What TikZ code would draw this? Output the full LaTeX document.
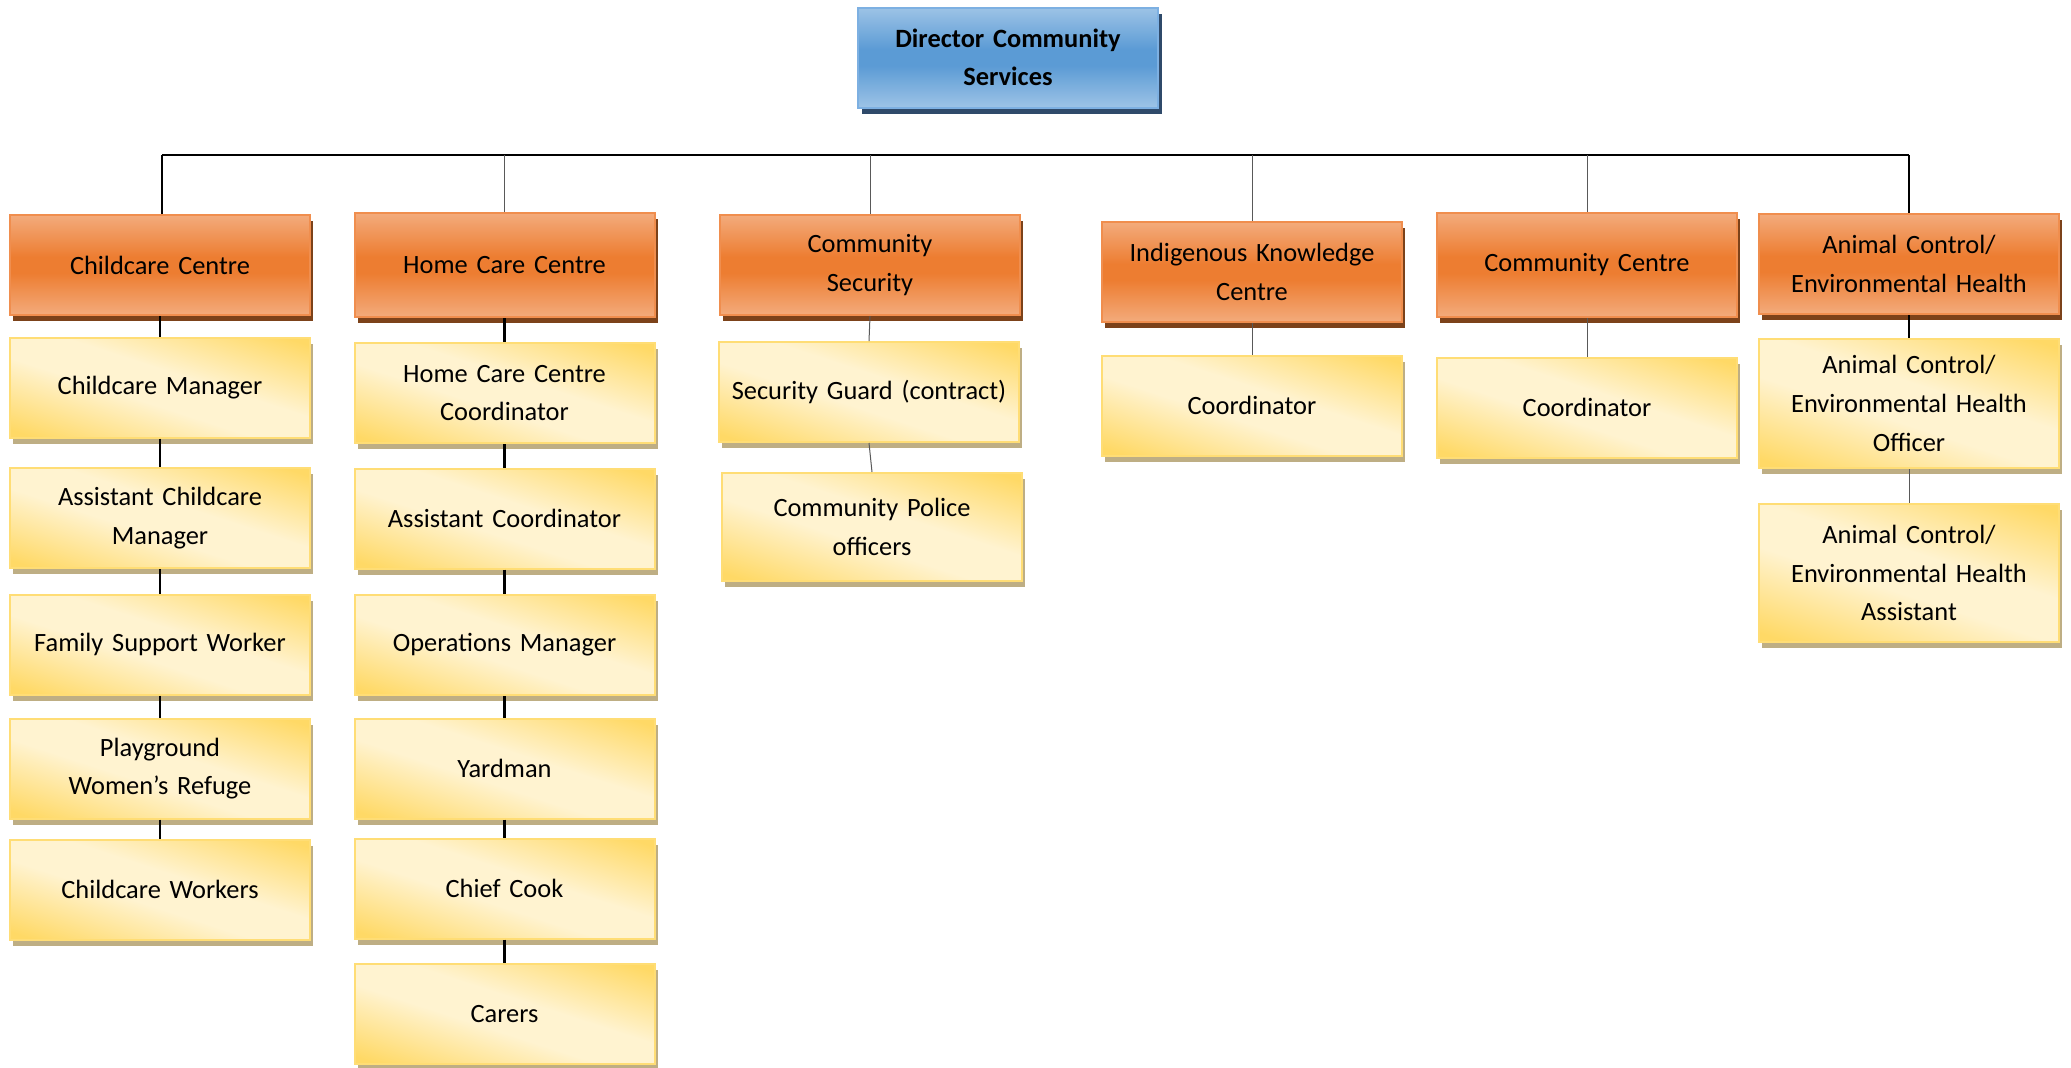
\documentclass[tikz,border=0pt]{standalone}
\usepackage{fontspec}
\setmainfont{Carlito}
\usepackage{xcolor}
\usetikzlibrary{shadows, positioning, calc}

\definecolor{omid}{HTML}{ED7D31}
\definecolor{olight}{HTML}{F3AB7C}
\definecolor{oborder}{HTML}{F08E4E}
\definecolor{oshadow}{HTML}{7C421A}
\definecolor{bmid}{HTML}{5B9BD5}
\definecolor{blight}{HTML}{9DC3E6}
\definecolor{bborder}{HTML}{7DB0E2}
\definecolor{bshadow}{HTML}{2F4A6A}
\definecolor{ygold}{HTML}{FFD966}
\definecolor{ylight}{HTML}{FFF3D0}
\definecolor{yborder}{HTML}{FFDD75}
\definecolor{yshadow}{HTML}{BEAE84}

\pgfdeclareverticalshading{orangebar}{100bp}{color(0bp)=(olight); color(25bp)=(olight); color(46bp)=(omid); color(54bp)=(omid); color(75bp)=(olight); color(100bp)=(olight)}
\pgfdeclareverticalshading{bluebar}{100bp}{color(0bp)=(blight); color(25bp)=(blight); color(46bp)=(bmid); color(54bp)=(bmid); color(75bp)=(blight); color(100bp)=(blight)}
\pgfdeclarehorizontalshading{yellowdiag}{100bp}{color(0bp)=(ygold); color(21bp)=(ygold); color(44bp)=(ylight); color(56bp)=(ylight); color(79bp)=(ygold); color(100bp)=(ygold)}

\tikzset{
  box/.style={rectangle, minimum width=150pt, minimum height=50pt,
    text width=142pt, align=center, font=\fontsize{13.2}{19.3}\selectfont,
    line width=1pt, inner sep=0pt},
  headbox/.style={box, draw=oborder, shading=orangebar,
    drop shadow={shadow xshift=1.5pt, shadow yshift=-3pt, fill=oshadow, opacity=1}},
  topbox/.style={box, draw=bborder, shading=bluebar, font=\fontsize{13.2}{19.3}\selectfont\bfseries,
    drop shadow={shadow xshift=2pt, shadow yshift=-3pt, fill=bshadow, opacity=1}},
  staffbox/.style={box, draw=yborder, shading=yellowdiag, shading angle=72,
    drop shadow={shadow xshift=1.5pt, shadow yshift=-3pt, fill=yshadow, opacity=1}},
  boldline/.style={line width=1.3pt, black},
  thinline/.style={line width=0.5pt, black!65},
}

\begin{document}
\begin{tikzpicture}[x=0.5pt, y=-0.5pt]
  \useasboundingbox (0,0) rectangle (2071,1067);

  % director
  \node[topbox] (dir) at (1008,57.5) {Director Community\\Services};

  % centres
  \node[headbox] (child) at (160,265) {Childcare Centre};
  \node[headbox, minimum height=52pt] (home) at (504.5,265) {Home Care Centre};
  \node[headbox] (secur) at (870,265) {Community\\Security};
  \node[headbox] (indig) at (1252,272) {Indigenous Knowledge\\Centre};
  \node[headbox, minimum height=52pt] (comm) at (1587,265) {Community Centre};
  \node[headbox] (anim) at (1909,264) {Animal Control/\\Environmental Health};

  % childcare column
  \node[staffbox] (chman) at (160,387.5) {Childcare Manager};
  \node[staffbox] (chass) at (160,518) {Assistant Childcare\\Manager};
  \node[staffbox] (chfam) at (160,644.5) {Family Support Worker};
  \node[staffbox] (chplay) at (160,768.5) {Playground\\Women’s Refuge};
  \node[staffbox] (chwork) at (160,889.5) {Childcare Workers};

  % home care column
  \node[staffbox] (hccoord) at (504.5,393) {Home Care Centre\\Coordinator};
  \node[staffbox] (hcass) at (504.5,518.5) {Assistant Coordinator};
  \node[staffbox] (hcops) at (504.5,645) {Operations Manager};
  \node[staffbox] (hcyard) at (504.5,768.5) {Yardman};
  \node[staffbox] (hccook) at (504.5,888.5) {Chief Cook};
  \node[staffbox] (hccare) at (504.5,1014) {Carers};

  % security column
  \node[staffbox] (scguard) at (869,392) {Security Guard (contract)};
  \node[staffbox, minimum height=54pt] (scpol) at (872,527) {Community Police\\officers};

  % other columns
  \node[staffbox] (ikcoord) at (1252,405.5) {Coordinator};
  \node[staffbox] (cccoord) at (1587,407.5) {Coordinator};
  \node[staffbox, minimum height=64.5pt] (acoff) at (1909,403.5) {Animal Control/\\Environmental Health\\Officer};
  \node[staffbox, minimum height=69pt] (acass) at (1909,573) {Animal Control/\\Environmental Health\\Assistant};

  % bus
  \coordinate (busL) at (162,155);
  \coordinate (busR) at (1909,155);
  \draw[boldline] (busL) -- (busR);
  \draw[boldline] ($(dir.south)+(-5,0)$) -- ($(dir.south)+(-5,0)$ |- busL);
  \draw[boldline] (busL) -- (busL |- child.north);
  \draw[boldline] (busR) -- (anim.north);
  \foreach \n in {home,secur,indig,comm}
    \draw[thinline] (\n.north |- busL) -- (\n.north);

  % columns
  \draw[boldline] (child.south) -- (chman.north);
  \draw[boldline] (chman.south) -- (chass.north);
  \draw[boldline] (chass.south) -- (chfam.north);
  \draw[boldline] (chfam.south) -- (chplay.north);
  \draw[boldline] (chplay.south) -- (chwork.north);
  \draw[boldline] (home.south) -- (hccoord.north);
  \draw[boldline] (hccoord.south) -- (hcass.north);
  \draw[boldline] (hcass.south) -- (hcops.north);
  \draw[boldline] (hcops.south) -- (hcyard.north);
  \draw[boldline] (hcyard.south) -- (hccook.north);
  \draw[boldline] (hccook.south) -- (hccare.north);
  \draw[thinline] (secur.south) -- (scguard.north);
  \draw[thinline] (scguard.south) -- (scpol.north);
  \draw[thinline] (indig.south) -- (ikcoord.north);
  \draw[thinline] (comm.south) -- (cccoord.north);
  \draw[boldline] (anim.south) -- (acoff.north);
  \draw[thinline] (acoff.south) -- (acass.north);
\end{tikzpicture}
\end{document}
